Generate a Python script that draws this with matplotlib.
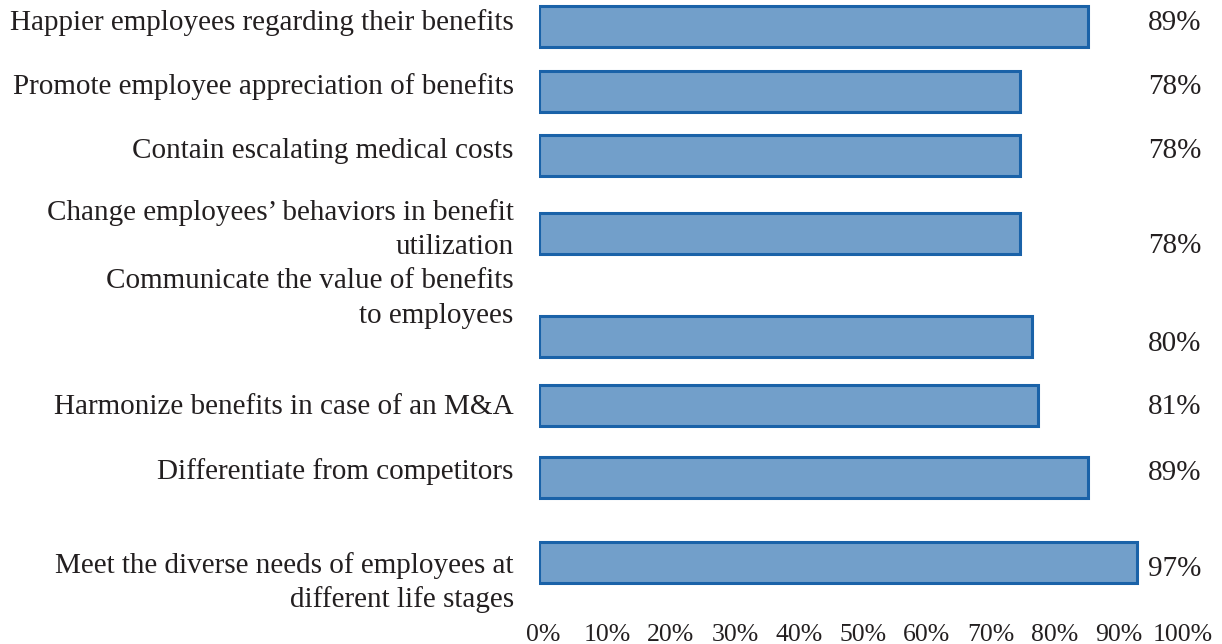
import numpy as np
import matplotlib.pyplot as plt

# survey data
categories = [
    "Happier employees regarding their benefits",
    "Promote employee appreciation of benefits",
    "Contain escalating medical costs",
    "Change employees\u2019 behaviors in benefit\nutilization",
    "Communicate the value of benefits\nto employees",
    "Harmonize benefits in case of an M&A",
    "Differentiate from competitors",
    "Meet the diverse needs of employees at\ndifferent life stages",
]
values = [89, 78, 78, 78, 80, 81, 89, 97]
tick_values = np.arange(0, 101, 10)

# layout (pixel rows, the original chart is not evenly spaced)
bar_y = [26.5, 91.5, 155, 233, 336.5, 405, 477, 562]
label_y = [23, 87, 151, 229.5, 298.5, 407, 472, 582.5]
pct_y = [23, 87, 151, 246, 344, 407, 473, 569]

W, H = 1222, 644
px_per_pct = 6.165
x0 = 539

plt.rcParams['font.family'] = ['Liberation Serif', 'DejaVu Serif']
txt = '#231f20'

fig = plt.figure(figsize=(W / 100, H / 100), dpi=100)
ax = fig.add_axes([x0 / W, 0, (W - x0) / W, 1])
ax.set_xlim(0, (W - x0) / px_per_pct)
ax.set_ylim(H, 0)

ax.barh(bar_y, values, height=41, left=0, color='#729fca',
        edgecolor='#1a62a8', linewidth=2.2)

ytr = ax.get_yaxis_transform()
for i, (lab, y) in enumerate(zip(categories, label_y)):
    ls = 1.45 if i == 4 else 1.36
    ax.text(-0.037, y, lab, transform=ytr, ha='right', va='center',
            multialignment='right', fontsize=21, color=txt, linespacing=ls)
for v, y in zip(values, pct_y):
    ax.text((1148 - x0) / (W - x0), y, f"{v}%", transform=ytr, ha='left',
            va='center', fontsize=21, color=txt)

for s in ax.spines.values():
    s.set_visible(False)
ax.set_xticks([])
ax.set_yticks([])

# tick labels are spaced slightly wider than the bar scale in the original
a = (543 - x0) / px_per_pct
b = 6.4 / px_per_pct
sec = ax.secondary_xaxis(20 / H, functions=(lambda u: (u - a) / b, lambda v: a + b * v))
sec.set_xticks(tick_values)
sec.set_xticklabels([f"{t}%" for t in tick_values])
sec.tick_params(length=0, pad=0, labelsize=18.5, labelcolor=txt)
for s in sec.spines.values():
    s.set_visible(False)

fig.savefig('out.png', dpi=100)
